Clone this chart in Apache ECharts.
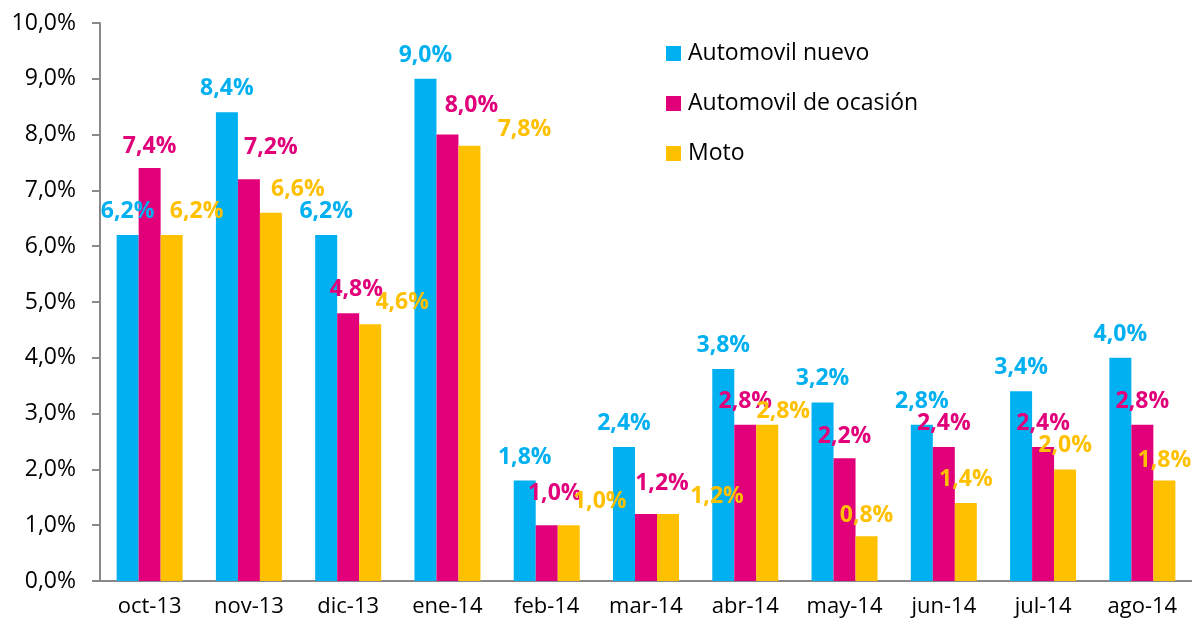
<!DOCTYPE html>
<html lang="es">
<head>
  <meta charset="UTF-8">
  <title>Automovil y moto</title>
  <script src="https://cdn.jsdelivr.net/npm/echarts@6/dist/echarts.min.js"></script>
</head>
<body style="margin:0">
  <div id="main" style="width:1192px;height:628px"></div>
  <script type="text/javascript">
    // datos
    var meses = ['oct-13', 'nov-13', 'dic-13', 'ene-14', 'feb-14', 'mar-14', 'abr-14', 'may-14', 'jun-14', 'jul-14', 'ago-14'];
    var nuevo = [6.2, 8.4, 6.2, 9.0, 1.8, 2.4, 3.8, 3.2, 2.8, 3.4, 4.0];
    var ocasion = [7.4, 7.2, 4.8, 8.0, 1.0, 1.2, 2.8, 2.2, 2.4, 2.4, 2.8];
    var moto = [6.2, 6.6, 4.6, 7.8, 1.0, 1.2, 2.8, 0.8, 1.4, 2.0, 1.8];

    // desplazamiento de etiquetas (como en el original, movidas a mano)
    var despOcasion = [[0, 2], [22, -8], [8, 0], [24, -6], [8, -8], [16, -7], [0, 0], [0, 2], [0, 0], [0, 0], [0, 0]];
    var despMoto = [[25, 0], [27, 0], [32, 2], [55, 7], [31, 0], [49, 6], [16, 10], [0, 3], [0, 0], [0, 0], [0, 3]];

    var fuente = '"Open Sans", sans-serif';
    function pct(v) {
      return v.toFixed(1).replace('.', ',') + '%';
    }
    function serie(nombre, valores, color, desp) {
      return {
        name: nombre,
        type: 'bar',
        barWidth: 22,
        barGap: 0,
        itemStyle: { color: color },
        label: {
          show: true,
          position: 'top',
          distance: 12,
          color: color,
          fontFamily: fuente,
          fontWeight: 'bold',
          fontSize: 23,
          formatter: function (p) { return pct(p.value); }
        },
        data: valores.map(function (v, i) {
          return desp ? { value: v, label: { offset: desp[i] } } : v;
        })
      };
    }

    var myChart = echarts.init(document.getElementById('main'));
    var option = {
      animation: false,
      backgroundColor: '#fff',
      grid: { left: 100, top: 23, width: 1093, bottom: 47 },
      legend: {
        orient: 'vertical',
        left: 666,
        top: 42,
        padding: 0,
        itemWidth: 15,
        itemHeight: 15,
        itemGap: 27,
        icon: 'rect',
        textStyle: { fontFamily: fuente, fontSize: 23, color: '#000', padding: [0, 0, 0, 2] },
        data: ['Automovil nuevo', 'Automovil de ocasión', 'Moto']
      },
      xAxis: {
        type: 'category',
        data: meses,
        axisLine: { lineStyle: { color: '#898989', width: 2 } },
        axisTick: { length: 8, lineStyle: { color: '#898989', width: 2 } },
        axisLabel: { interval: 0, margin: 15, color: '#000', fontFamily: fuente, fontSize: 22 }
      },
      yAxis: {
        type: 'value',
        min: 0,
        max: 10,
        interval: 1,
        splitLine: { show: false },
        axisLine: { show: true, lineStyle: { color: '#898989', width: 2 } },
        axisTick: { show: true, length: 8, lineStyle: { color: '#898989', width: 2 } },
        axisLabel: {
          margin: 24,
          color: '#000',
          fontFamily: fuente,
          fontSize: 23,
          formatter: function (v) { return pct(v); }
        }
      },
      series: [
        serie('Automovil nuevo', nuevo, '#00B0F0', null),
        serie('Automovil de ocasión', ocasion, '#E2007A', despOcasion),
        serie('Moto', moto, '#FFC000', despMoto)
      ]
    };
    myChart.setOption(option);
  </script>
</body>
</html>
